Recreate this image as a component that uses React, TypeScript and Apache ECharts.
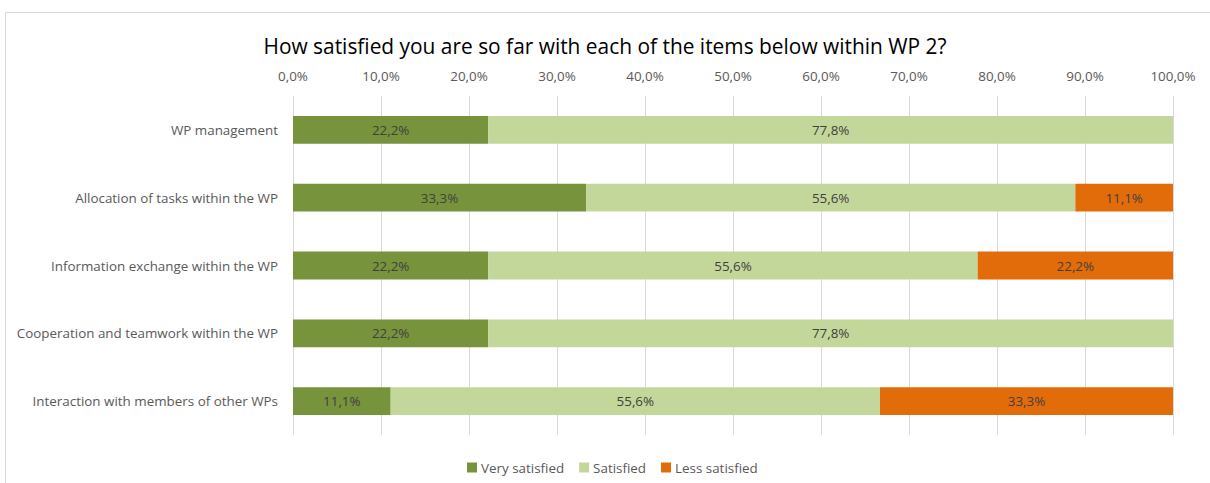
import React, { useEffect, useRef } from "react";
import * as echarts from "echarts";

const categories = [
  "WP management",
  "Allocation of tasks within the WP",
  "Information exchange within the WP",
  "Cooperation and teamwork within the WP",
  "Interaction with members of other WPs",
];
const verySatisfied = [22.2, 33.3, 22.2, 22.2, 11.1];
const satisfied = [77.8, 55.6, 55.6, 77.8, 55.6];
const lessSatisfied = [null, 11.1, 22.2, null, 33.3];
const seriesNames = ["Very satisfied", "Satisfied", "Less satisfied"];
const colors = ["#77933C", "#C4D79B", "#E36C0A"];
const title = "How satisfied you are so far with each of the items below within WP 2?";

const FONT = "'Open Sans', Lato, sans-serif";
const FS = 13.4;
const fmt = (v: number) => v.toFixed(1).replace(".", ",") + "%";

export default function App() {
  const ref = useRef<HTMLDivElement>(null);
  useEffect(() => {
    const chart = echarts.init(ref.current!, null, { renderer: "svg" });
    const data = [verySatisfied, satisfied, lessSatisfied];
    chart.setOption({
      animation: false,
      textStyle: { fontFamily: FONT },
      title: {
        text: title,
        left: "center",
        top: 30,
        textStyle: { fontFamily: FONT, fontSize: 20.9, fontWeight: "normal", color: "#000" },
      },
      legend: {
        bottom: 4,
        left: 462,
        itemWidth: 10,
        itemHeight: 10,
        itemGap: 15,
        icon: "rect",
        textStyle: { fontFamily: FONT, fontSize: FS, color: "#595959", padding: [0, 0, 0, -1] },
      },
      graphic: [
        {
          type: "rect",
          shape: { x: 5.5, y: 12.5, width: 1300, height: 600 },
          style: { fill: "none", stroke: "#d9d9d9", lineWidth: 1 },
          silent: true,
          z: -10,
        },
      ],
      grid: { left: 293, right: 37, top: 96, bottom: 48 },
      xAxis: {
        type: "value",
        position: "top",
        min: 0,
        max: 100,
        interval: 10,
        axisLine: { show: false },
        axisTick: { show: false },
        splitLine: { lineStyle: { color: "#d9d9d9", width: 1 } },
        axisLabel: {
          formatter: (v: number) => fmt(v),
          fontFamily: FONT,
          fontSize: FS,
          color: "#595959",
          margin: 14,
        },
      },
      yAxis: {
        type: "category",
        inverse: true,
        data: categories,
        axisLine: { show: false },
        axisTick: { show: false },
        axisLabel: { fontFamily: FONT, fontSize: FS, color: "#595959", margin: 15 },
      },
      series: seriesNames.map((name, i) => ({
        name,
        type: "bar",
        stack: "total",
        barWidth: "41%",
        itemStyle: { color: colors[i] },
        label: {
          show: true,
          position: "inside",
          formatter: (p: any) => (p.value == null ? "" : fmt(p.value)),
          fontFamily: FONT,
          fontSize: FS,
          color: "#404040",
        },
        data: data[i],
      })),
    });
    return () => chart.dispose();
  }, []);
  return (
    <div
      ref={ref}
      style={{ position: "fixed", left: 0, top: 0, width: 1210, height: 483, background: "#fff" }}
    />
  );
}
